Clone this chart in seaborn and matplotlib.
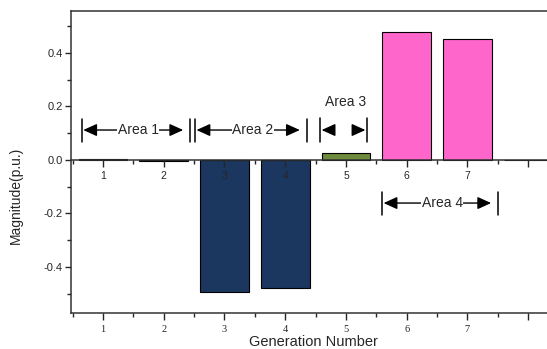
import numpy as np
import pandas as pd
import seaborn as sns
import matplotlib.pyplot as plt
from matplotlib.ticker import MultipleLocator, FixedLocator

# Data
generations = [1, 2, 3, 4, 5, 6, 7, 8]
magnitudes = [0.002, -0.003, -0.493, -0.479, 0.026, 0.479, 0.452, 0.001]
bar_colors = ["#000000", "#8b1a1a", "#1b365f", "#1b365f", "#6e8b3d",
              "#ff66cc", "#ff66cc", "#333333"]
tick_labels = ["1", "2", "3", "4", "5", "6", "7", ""]

# Area annotations: name, x start, x end, y
areas = [("Area 1", 0.655, 2.44, 0.112),
         ("Area 2", 2.52, 4.36, 0.112),
         ("Area 4", 5.60, 7.51, -0.161)]

df = pd.DataFrame({"gen": generations, "value": magnitudes,
                   "label": [str(g) for g in generations]})
palette = dict(zip(df["label"], bar_colors))

sns.set_style("ticks")
plt.rcParams["font.family"] = ["Liberation Sans", "DejaVu Sans"]

fig = plt.figure(figsize=(5.47, 3.49), dpi=100)
ax = fig.add_axes([0.1298, 0.1032, 0.8702, 0.8653])

sns.barplot(data=df, x="gen", y="value", hue="label", palette=palette,
            native_scale=True, width=0.8, dodge=False, errorbar=None,
            saturation=1, edgecolor="black", linewidth=0.8, legend=False,
            ax=ax)

ymin, ymax = -0.572, 0.557
ax.set_xlim(0.473, 8.31)
ax.set_ylim(ymin, ymax)

# spines
ax.spines["right"].set_visible(False)
for s in ["left", "bottom", "top"]:
    ax.spines[s].set_linewidth(1.1)
    ax.spines[s].set_color("#333333")

# y axis
ax.yaxis.set_major_locator(FixedLocator([-0.4, -0.2, 0.0, 0.2, 0.4]))
ax.yaxis.set_minor_locator(FixedLocator([-0.5, -0.3, -0.1, 0.1, 0.3, 0.5]))
ax.set_yticklabels(["-0.4", "-0.2", "0.0", "0.2", "0.4"])
ax.tick_params(axis="y", which="major", direction="out", length=4, width=1,
               labelsize=8, pad=2)
ax.tick_params(axis="y", which="minor", direction="out", length=3, width=1)

# bottom x axis with serif labels
ax.xaxis.set_major_locator(FixedLocator(generations))
ax.xaxis.set_minor_locator(MultipleLocator(0.5))
ax.set_xticklabels(tick_labels, family="Liberation Serif", fontsize=7.5)
ax.tick_params(axis="x", which="major", direction="out", length=5, width=1,
               pad=4)
ax.tick_params(axis="x", which="minor", direction="out", length=3, width=1)

# inner axis along y = 0, drawn above the bars
frac = (0 - ymin) / (ymax - ymin)
sec = ax.secondary_xaxis(frac)
sec.set_zorder(5)
sec.xaxis.tick_bottom()
sec.spines["top"].set_visible(False)
sec.spines["bottom"].set_visible(True)
sec.xaxis.set_major_locator(FixedLocator(generations))
sec.xaxis.set_minor_locator(MultipleLocator(0.5))
sec.set_xticklabels(tick_labels, fontsize=7.5)
sec.spines["bottom"].set_linewidth(1.1)
sec.spines["bottom"].set_color("#333333")
sec.tick_params(axis="x", which="both", bottom=True, top=False,
                labelbottom=True, labeltop=False)
sec.tick_params(axis="x", which="major", direction="out", length=5, width=1,
                pad=3)
sec.tick_params(axis="x", which="minor", direction="out", length=3, width=1)

ax.set_xlabel("Generation Number", fontsize=10.5)
ax.xaxis.set_label_coords(0.51, -0.072)
ax.set_ylabel("Magnitude(p.u.)", fontsize=10)
ax.yaxis.set_label_coords(-0.101, 0.39)

arrow_kw = dict(arrowstyle="<|-|>,head_length=0.55,head_width=0.25",
                color="black", lw=1, mutation_scale=15, shrinkA=0, shrinkB=0)
single_kw = dict(arrowstyle="-|>,head_length=0.55,head_width=0.25",
                 color="black", lw=1, mutation_scale=15, shrinkA=0, shrinkB=0)

for name, x0, x1, y in areas:
    ax.plot([x0, x0], [y - 0.043, y + 0.043], color="black", lw=1.1)
    ax.plot([x1, x1], [y - 0.043, y + 0.043], color="black", lw=1.1)
    ax.annotate("", xy=(x1 - 0.12, y), xytext=(x0 + 0.02, y),
                arrowprops=arrow_kw)
    ax.text((x0 + x1) / 2 + 0.03, y, name, ha="center", va="center",
            fontsize=10, bbox=dict(facecolor="white", edgecolor="none", pad=0.3))

# Area 3: short outward arrow heads between two bars, label above
a3_x0, a3_x1, a3_y = 4.57, 5.35, 0.112
ax.plot([a3_x0, a3_x0], [a3_y - 0.045, a3_y + 0.045], color="black", lw=1.1)
ax.plot([a3_x1, a3_x1], [a3_y - 0.045, a3_y + 0.045], color="black", lw=1.1)
ax.annotate("", xy=(a3_x0 + 0.03, a3_y), xytext=(a3_x0 + 0.2, a3_y),
            arrowprops=single_kw)
ax.annotate("", xy=(a3_x1 - 0.03, a3_y), xytext=(a3_x1 - 0.2, a3_y),
            arrowprops=single_kw)
ax.text(5.0, 0.217, "Area 3", ha="center", va="center", fontsize=10)

fig.savefig("out.png", dpi=100)
